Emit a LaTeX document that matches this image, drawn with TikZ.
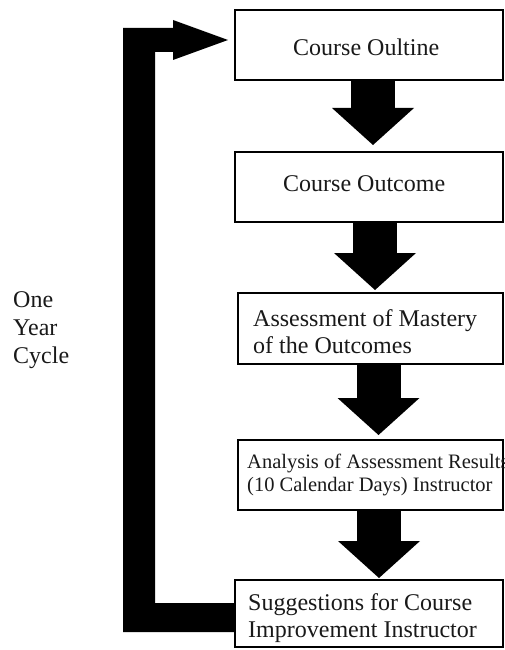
\documentclass[tikz,border=0pt]{standalone}
\usepackage{fontspec}
\setmainfont{Liberation Serif}
\usetikzlibrary{arrows.meta,calc}
\begin{document}
\begin{tikzpicture}[x=1pt,y=-1pt,
  stage/.style={draw=black, line width=2.6pt, rectangle, anchor=north west,
    inner sep=0pt, outer sep=0pt},
  caption/.style={anchor=base west, inner sep=0pt, align=left, text=black!90},
  bigtext/.style={font=\fontsize{24}{26.5}\selectfont},
  smalltext/.style={font=\fontsize{20.5}{23}\selectfont},
  flow/.style={line width=44pt,
    -{Triangle[width=82pt,length=37pt,line width=0pt]}}]
  \useasboundingbox (0,0) rectangle (505,650);
  \clip (0,0) rectangle (505,650);

  % the five stages of the cycle
  \node[stage, minimum width=268pt, minimum height=70pt] (b1) at (235,10) {};
  \node[stage, minimum width=268pt, minimum height=70pt] (b2) at (235,152) {};
  \node[stage, minimum width=265pt, minimum height=71pt] (b3) at (238,293) {};
  \node[stage, minimum width=265pt, minimum height=70pt] (b4) at (238,440) {};
  \node[stage, minimum width=268pt, minimum height=67pt] (b5) at (235,580) {};

  % stage texts (multi-line texts are placed by their last baseline)
  \node[caption, bigtext] (t1) at (293,56) {Course Oultine};
  \node[caption, bigtext] (t2) at (283,191) {Course Outcome};
  \node[caption, bigtext] (t3) at (253,353) {Assessment of Mastery\\of the Outcomes};
  \node[caption, smalltext] (t4) at (247,491) {Analysis of Assessment Results\\(10 Calendar Days) Instructor};
  \node[caption, bigtext, font=\fontsize{24}{27}\selectfont] (t5) at (248,637) {Suggestions for Course\\Improvement Instructor};
  \node[caption, font=\fontsize{24}{28}\selectfont] (cyc) at (13,363) {One\\Year\\Cycle};

  % block arrows between stages
  \draw[flow] ([xshift=4pt]b1.south) -- ([xshift=4pt,yshift=7pt]b2.north);
  \draw[flow] ([xshift=6pt]b2.south) -- ([xshift=4.5pt,yshift=3pt]b3.north);
  \draw[flow] ([xshift=8pt]b3.south) -- ([xshift=8pt,yshift=5pt]b4.north);
  \draw[flow] ([xshift=8.5pt]b4.south) -- ([xshift=10pt,yshift=2pt]b5.north);

  % feedback loop from the last stage back to the first
  \fill[black]
    ($(b5.west)+(0,-10.5)$) -- ($(b5.west)+(-80,-10.5)$)
    -- ($(b1.west)+(-80,7)$) -- ($(b1.west)+(-62,7)$)
    -- ($(b1.west)+(-62,15)$) -- ($(b1.west)+(-7,-5)$)
    -- ($(b1.west)+(-62,-25)$) -- ($(b1.west)+(-62,-17)$)
    -- ($(b1.west)+(-112,-17)$) -- ($(b5.west)+(-112,18.5)$)
    -- ($(b5.west)+(0,18.5)$) -- cycle;
\end{tikzpicture}
\end{document}
